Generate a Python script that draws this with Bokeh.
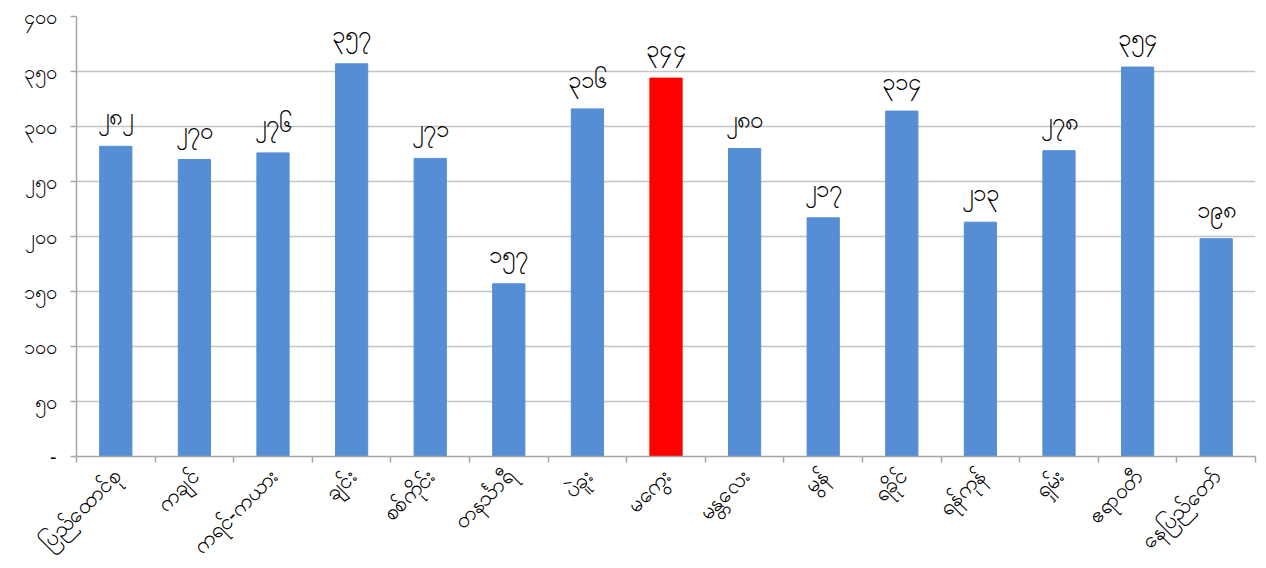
from bokeh.plotting import figure
from bokeh.models import FixedTicker, CustomJSTickFormatter, ColumnDataSource, Range1d
from bokeh.embed import file_html
from bokeh.resources import INLINE
import math

regions = ["ပြည်ထောင်စု", "ကချင်", "ကရင်-ကယား", "ချင်း", "စစ်ကိုင်း", "တနင်္သာရီ", "ပဲခူး",
           "မကွေး", "မန္တလေး", "မွန်", "ရခိုင်", "ရန်ကုန်", "ရှမ်း", "ဧရာဝတီ", "နေပြည်တော်"]
values = [282, 270, 276, 357, 271, 157, 316, 344, 280, 217, 314, 213, 278, 354, 198]
value_labels = ["၂၈၂", "၂၇၀", "၂၇၆", "၃၅၇", "၂၇၁", "၁၅၇", "၃၁၆", "၃၄၄", "၂၈၀", "၂၁၇",
                "၃၁၄", "၂၁၃", "၂၇၈", "၃၅၄", "၁၉၈"]
y_ticks = [0, 50, 100, 150, 200, 250, 300, 350, 400]
y_tick_labels = ["-", "၅၀", "၁၀၀", "၁၅၀", "၂၀၀", "၂၅၀", "၃၀၀", "၃၅၀", "၄၀၀"]
highlight = "မကွေး"

FONT = "Noto Sans"
BLUE = "#558ed5"
RED = "#ff0000"

xs = [i + 0.5 for i in range(len(regions))]
colors = [RED if r == highlight else BLUE for r in regions]
src = ColumnDataSource(dict(x=xs, top=values, lab=value_labels, color=colors))

p = figure(frame_width=1179, frame_height=440, output_backend="svg", toolbar_location=None,
           x_range=Range1d(0, len(regions)), y_range=Range1d(0, 400))
p.min_border_left = 76
p.min_border_top = 16
p.min_border_right = 3
p.min_border_bottom = 90
p.outline_line_color = None
p.background_fill_color = "white"

p.vbar(x="x", top="top", width=0.41, color="color", source=src)
p.text(x="x", y="top", text="lab", source=src, text_align="center", text_baseline="bottom",
       y_offset=-16, text_font=FONT, text_font_size="24px", text_color="#000000")

# x axis
xa = p.xaxis[0]
xa.ticker = FixedTicker(ticks=xs, minor_ticks=list(range(len(regions) + 1)))
xa.formatter = CustomJSTickFormatter(args=dict(labels=regions),
                                     code="return labels[Math.floor(tick)] || '';")
xa.major_label_orientation = math.pi / 4
xa.major_tick_out = 0
xa.major_tick_in = 0
xa.minor_tick_out = 6
xa.minor_tick_in = 0
xa.minor_tick_line_color = "#a6a6a6"
xa.minor_tick_line_width = 1.5
xa.axis_line_color = "#a6a6a6"
xa.axis_line_width = 1.5
xa.major_label_text_font = FONT
xa.major_label_text_font_size = "22px"
xa.major_label_text_color = "#000000"
xa.major_label_standoff = 9

# y axis
ya = p.yaxis[0]
ya.ticker = FixedTicker(ticks=y_ticks, minor_ticks=[])
ya.formatter = CustomJSTickFormatter(args=dict(t=y_ticks, l=y_tick_labels),
                                     code="const i = t.indexOf(tick); return i >= 0 ? l[i] : '';")
ya.major_tick_out = 6
ya.major_tick_in = 0
ya.major_tick_line_color = "#a6a6a6"
ya.major_tick_line_width = 1.5
ya.minor_tick_line_color = None
ya.axis_line_color = "#a6a6a6"
ya.axis_line_width = 1.5
ya.major_label_text_font = FONT
ya.major_label_text_font_size = "20px"
ya.major_label_text_color = "#000000"
ya.major_label_standoff = 14

p.xgrid.grid_line_color = None
p.ygrid.ticker = FixedTicker(ticks=y_ticks)
p.ygrid.grid_line_color = "#c4c4c4"
p.ygrid.grid_line_width = 1.5

open("out.html", "w").write(file_html(p, INLINE))
